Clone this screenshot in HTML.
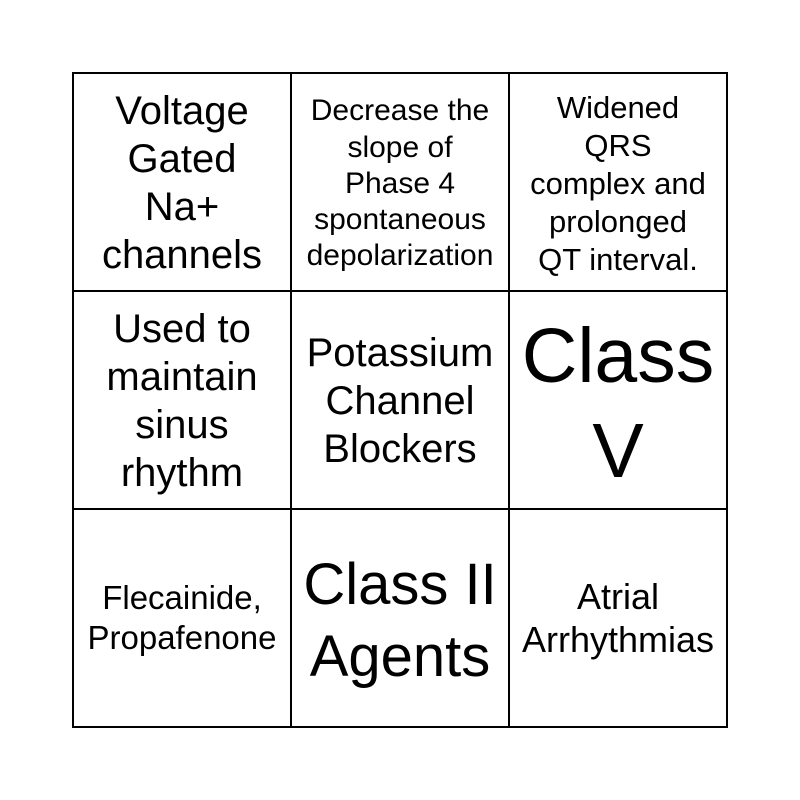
<!DOCTYPE html>
<html>
<head>
<meta charset="utf-8">
<style>
  html, body { margin:0; padding:0; background:#fff; }
  body { width:800px; height:800px; position:relative; overflow:hidden; font-family:"Liberation Sans", Arial, sans-serif; color:#000; }
  svg { position:absolute; left:0; top:0; }
  .c { position:absolute; width:218px; height:218px; display:flex; align-items:center; justify-content:center; text-align:center; }
  .c div { white-space:nowrap; position:relative; }
</style>
</head>
<body>
<svg width="800" height="800" viewBox="0 0 800 800">
  <g stroke="#000" stroke-width="2" fill="none">
    <rect x="73" y="73" width="654" height="654"/>
    <line x1="291" y1="73" x2="291" y2="727"/>
    <line x1="509" y1="73" x2="509" y2="727"/>
    <line x1="73" y1="291" x2="727" y2="291"/>
    <line x1="73" y1="509" x2="727" y2="509"/>
  </g>
</svg>

<div class="c" style="left:73px;top:73px;"><div style="font-size:40px;line-height:48px;top:1px;">Voltage<br>Gated<br>Na+<br>channels</div></div>
<div class="c" style="left:291px;top:73px;"><div style="font-size:30px;line-height:36.3px;top:2px;">Decrease the<br>slope of<br>Phase 4<br>spontaneous<br>depolarization</div></div>
<div class="c" style="left:509px;top:73px;"><div style="font-size:31px;line-height:38px;top:1.5px;">Widened<br>QRS<br>complex and<br>prolonged<br>QT interval.</div></div>

<div class="c" style="left:73px;top:291px;"><div style="font-size:40px;line-height:48px;top:1px;">Used to<br>maintain<br>sinus<br>rhythm</div></div>
<div class="c" style="left:291px;top:291px;"><div style="font-size:40px;line-height:48px;top:1px;">Potassium<br>Channel<br>Blockers</div></div>
<div class="c" style="left:509px;top:291px;"><div style="font-size:77px;line-height:95px;top:4px;">Class<br>V</div></div>

<div class="c" style="left:73px;top:509px;"><div style="font-size:33px;line-height:40px;top:0px;">Flecainide,<br>Propafenone</div></div>
<div class="c" style="left:291px;top:509px;"><div style="font-size:58px;line-height:72px;top:2.5px;">Class II<br>Agents</div></div>
<div class="c" style="left:509px;top:509px;"><div style="font-size:36px;line-height:43px;">Atrial<br>Arrhythmias</div></div>
</body>
</html>
